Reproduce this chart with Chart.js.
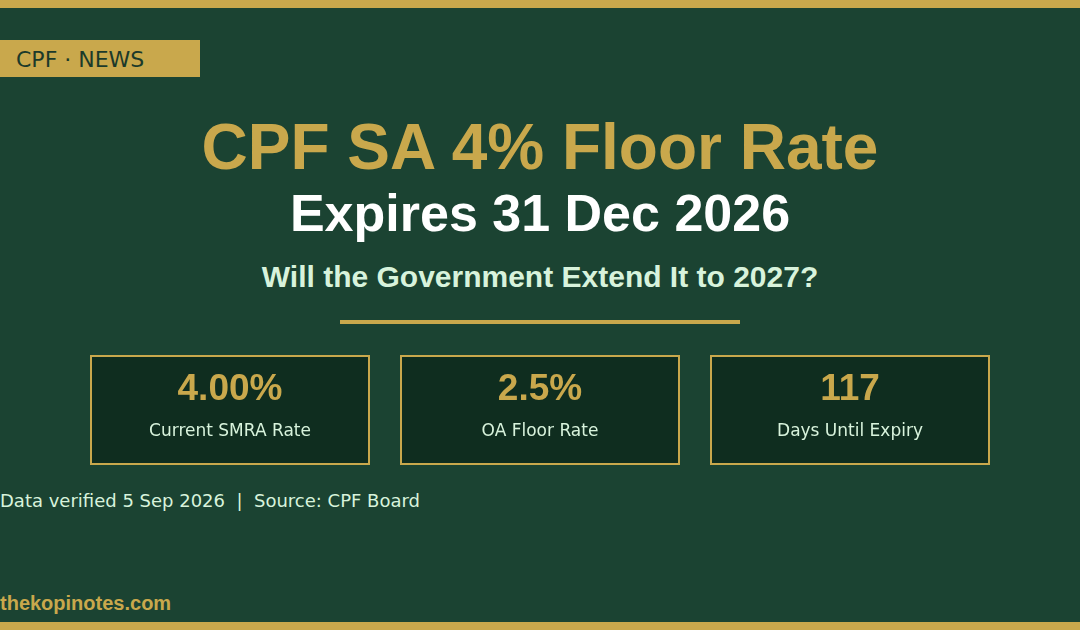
<!DOCTYPE html>
<html>
<head>
<meta charset="utf-8">
<script src="https://cdn.jsdelivr.net/npm/chart.js@4/dist/chart.umd.min.js"></script>
<style>
  html,body{margin:0;padding:0;}
  body{width:1080px;height:630px;overflow:hidden;}
  #stage{position:relative;width:1080px;height:630px;background:#1b4332;overflow:hidden;}
  .bar{position:absolute;left:0;width:1080px;height:8px;background:#c9a84c;}
  .abs{position:absolute;white-space:nowrap;line-height:1;}
  .center{left:0;width:1080px;text-align:center;}
  #tag{position:absolute;left:0;top:40px;width:200px;height:37px;background:#c9a84c;}
  #tagtext{left:16px;top:47px;font:22px "DejaVu Sans";color:#1b3a2a;}
  #title{top:110px;font:bold 64px "Liberation Sans";color:#c9a84c;}
  #sub{top:183px;font:bold 52px "Liberation Sans";color:#ffffff;}
  #q{top:260px;font:bold 30px "Liberation Sans";color:#d8f3dc;}
  #rule{position:absolute;left:340px;top:320px;width:400px;height:4px;background:#c9a84c;}
  #boxes{position:absolute;left:75px;top:355px;width:930px;height:110px;}
  #meta{left:0;top:490px;font:18px "DejaVu Sans";color:#d8f3dc;}
  #site{left:0;top:592px;font:bold 20px "Liberation Sans";color:#c9a84c;}
</style>
</head>
<body>
<div id="stage">
  <div class="bar" style="top:0"></div>
  <div id="tag"></div>
  <div id="tagtext" class="abs">CPF · NEWS</div>
  <div id="title" class="abs center">CPF SA 4% Floor Rate</div>
  <div id="sub" class="abs center">Expires 31 Dec 2026</div>
  <div id="q" class="abs center">Will the Government Extend It to 2027?</div>
  <div id="rule"></div>
  <div id="boxes"><canvas id="c" width="930" height="110"></canvas></div>
  <div id="meta" class="abs">Data verified 5 Sep 2026&nbsp; |&nbsp; Source: CPF Board</div>
  <div id="site" class="abs">thekopinotes.com</div>
  <div class="bar" style="top:622px"></div>
</div>
<script>
// Data
const statKeys = ['smra', 'oa', 'days'];
const statValues = ['4.00%', '2.5%', '117'];
const statLabels = ['Current SMRA Rate', 'OA Floor Rate', 'Days Until Expiry'];
const boxLevels = [1, 1, 1];

const statTextPlugin = {
  id: 'statText',
  afterDatasetsDraw(chart) {
    const ctx = chart.ctx;
    const meta = chart.getDatasetMeta(0);
    ctx.save();
    ctx.textAlign = 'center';
    ctx.textBaseline = 'alphabetic';
    meta.data.forEach((bar, i) => {
      ctx.fillStyle = '#c9a84c';
      ctx.font = 'bold 37px "Liberation Sans"';
      ctx.fillText(statValues[i], bar.x, 45);
      ctx.fillStyle = '#d8f3dc';
      ctx.font = '17px "DejaVu Sans"';
      ctx.fillText(statLabels[i], bar.x, 81);
    });
    ctx.restore();
  }
};

new Chart(document.getElementById('c'), {
  type: 'bar',
  data: {
    labels: statKeys,
    datasets: [{
      data: boxLevels,
      backgroundColor: '#0f2d1f',
      borderColor: '#c9a84c',
      borderWidth: 2,
      borderSkipped: false,
      categoryPercentage: 1,
      barPercentage: 280 / 310
    }]
  },
  options: {
    responsive: false,
    animation: false,
    devicePixelRatio: 1,
    layout: { padding: 0 },
    plugins: { legend: { display: false }, tooltip: { enabled: false } },
    scales: {
      x: { display: false },
      y: { display: false, min: 0, max: 1 }
    }
  },
  plugins: [statTextPlugin]
});
</script>
</body>
</html>
